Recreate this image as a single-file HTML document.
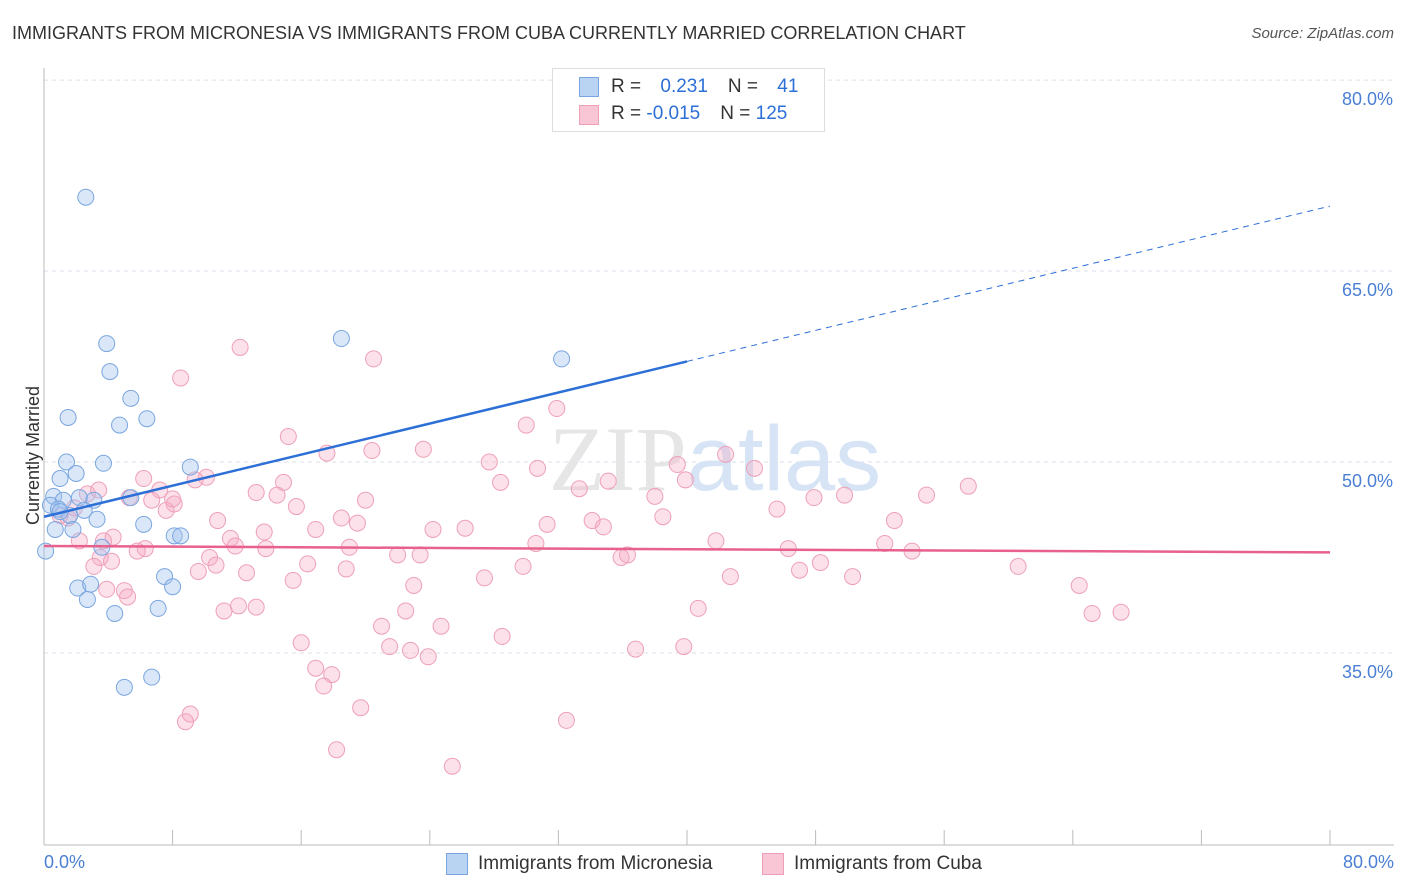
<!DOCTYPE html>
<html><head><meta charset="utf-8"><style>
body{margin:0;background:#fff;font-family:"Liberation Sans",sans-serif}
#wrap{position:relative;width:1406px;height:892px;overflow:hidden}
.t{position:absolute;white-space:nowrap}
</style></head><body>
<div id="wrap">
<div class="t" style="left:12px;top:23px;font-size:18px;color:#333">IMMIGRANTS FROM MICRONESIA VS IMMIGRANTS FROM CUBA CURRENTLY MARRIED CORRELATION CHART</div>
<div class="t" style="right:12px;top:25px;font-size:15px;color:#555;font-style:italic">Source: ZipAtlas.com</div>
<svg id="plot" width="1406" height="892" style="position:absolute;left:0;top:0"></svg>
</div>
<script>
const yTicks=[80,65,50,35];
const yTickLabels=["80.0%","65.0%","50.0%","35.0%"];
const xTickVals=[0,8,16,24,32,40,48,56,64,72,80];
const blueX=[2.6,3.9,4.1,5.4,1.5,6.4,4.7,1.4,3.7,2.0,1.0,9.1,0.6,1.2,2.2,3.1,5.4,0.4,0.9,2.5,1.6,3.3,6.2,0.7,1.8,8.1,8.5,3.6,0.1,7.5,2.1,2.9,8.0,2.7,4.4,7.1,5.0,6.7,18.5,32.2,1.0];
const blueY=[70.8,59.3,57.1,55.0,53.5,53.4,52.9,50.0,49.9,49.1,48.7,49.6,47.3,47.0,47.2,47.0,47.2,46.6,46.3,46.2,45.8,45.5,45.1,44.7,44.7,44.2,44.2,43.3,43.0,41.0,40.1,40.4,40.2,39.2,38.1,38.5,32.3,33.1,59.7,58.1,46.1];
const pinkX=[12.2,8.5,20.5,31.9,15.2,30.0,17.6,20.4,23.6,27.7,30.7,39.4,42.4,44.2,57.5,28.4,33.3,35.1,39.9,38.0,47.9,49.8,54.9,14.9,10.1,9.4,7.2,6.2,2.7,3.4,6.7,8.1,5.3,20.0,13.2,14.5,15.7,18.5,19.5,16.9,10.8,13.7,24.2,26.2,31.3,34.1,34.8,38.5,45.6,52.9,4.3,6.3,11.6,11.9,13.8,19.0,22.0,23.4,30.6,35.9,36.3,41.8,46.3,48.3,52.3,54.0,3.5,4.2,3.1,5.8,10.3,10.7,9.6,12.6,16.4,15.5,18.8,27.4,29.8,42.7,47.0,50.3,60.6,64.4,65.2,67.0,3.9,5.0,5.2,12.1,11.2,13.2,22.5,23.0,21.0,24.7,28.5,21.5,22.8,23.9,36.8,39.8,40.7,16.0,16.9,17.9,17.4,19.7,9.1,8.8,18.2,25.4,32.5,2.2,3.7,1.5,1.0,1.9,7.6,8.0];
const pinkY=[59.0,56.6,58.1,54.2,52.0,52.9,50.7,50.9,51.0,50.0,49.5,49.8,50.6,49.5,48.1,48.4,47.9,48.5,48.6,47.3,47.2,47.4,47.4,48.4,48.8,48.6,47.8,48.7,47.5,47.8,47.0,46.7,47.2,47.0,47.6,47.4,46.5,45.6,45.2,44.7,45.4,44.5,44.7,44.8,45.1,45.4,44.9,45.7,46.3,45.4,44.1,43.2,44.0,43.4,43.2,43.3,42.7,42.7,43.6,42.5,42.7,43.8,43.2,42.1,43.6,43.0,42.5,42.2,41.8,43.0,42.5,41.9,41.4,41.3,42.0,40.7,41.6,40.9,41.8,41.0,41.5,41.0,41.8,40.3,38.1,38.2,40.0,39.9,39.4,38.7,38.3,38.6,38.3,40.3,37.1,37.1,36.3,35.5,35.2,34.7,35.3,35.5,38.5,35.8,33.8,33.3,32.4,30.7,30.2,29.6,27.4,26.1,29.7,43.8,43.8,45.6,45.8,46.4,46.2,47.1];
const blueTrend=[45.7,57.9,70.1];
const pinkTrend=[43.4,42.9];
const NS="http://www.w3.org/2000/svg";
const svg=document.getElementById('plot');
const X=v=>44+v*(1330-44)/80;
const Y=v=>462-(v-50)*12.73;
function mk(tag,attrs,parent){const e=document.createElementNS(NS,tag);for(const k in attrs)e.setAttribute(k,attrs[k]);(parent||svg).appendChild(e);return e;}
yTicks.forEach((v,i)=>{
 const g=mk('line',{x1:44,x2:1394,y1:Y(v),y2:Y(v),stroke:'#dde',"stroke-dasharray":'4,4'});
 
 
 const t=mk('text',{x:1393,y:Y(v)+25,"text-anchor":'end',"font-size":18,fill:'#4a7fd4',"font-family":'Liberation Sans'});
 t.textContent=yTickLabels[i];
 
 
});
const ax1=mk('line',{x1:44,x2:44,y1:68,y2:845,stroke:'#bbb'});


const ax2=mk('line',{x1:44,x2:1394,y1:845,y2:845,stroke:'#bbb'});


xTickVals.forEach(v=>{
 const l=mk('line',{x1:X(v),x2:X(v),y1:830,y2:845,stroke:'#bbb'});
 
 
});
const wm=mk('text',{x:715,y:490,"text-anchor":'middle',"font-size":92,fill:'#e6e6e6',"font-family":'Liberation Serif'});
wm.innerHTML='ZIP<tspan fill="#d6e4f5" font-family="Liberation Sans">atlas</tspan>';


pinkX.forEach((x,i)=>{
 const c=mk('circle',{cx:X(x),cy:Y(pinkY[i]),r:8,fill:'rgba(245,170,195,0.35)',stroke:'#eea0b8',"stroke-width":1});
 
 
});
blueX.forEach((x,i)=>{
 const c=mk('circle',{cx:X(x),cy:Y(blueY[i]),r:8,fill:'rgba(160,195,240,0.4)',stroke:'#7aa6df',"stroke-width":1});
 
 
});
const bl=mk('line',{x1:X(0),y1:Y(blueTrend[0]),x2:X(40),y2:Y(blueTrend[1]),stroke:'#2c6fd6',"stroke-width":2.5});


const bd=mk('line',{x1:X(40),y1:Y(blueTrend[1]),x2:X(80),y2:Y(blueTrend[2]),stroke:'#2c6fd6',"stroke-width":1,"stroke-dasharray":'6,5'});


const pl=mk('line',{x1:X(0),y1:Y(pinkTrend[0]),x2:X(80),y2:Y(pinkTrend[1]),stroke:'#e8608c',"stroke-width":2.5});


</script>
<div class="t" style="left:44px;top:852px;font-size:18px;color:#4a7fd4">0.0%</div>
<div class="t" style="right:12px;top:852px;font-size:18px;color:#4a7fd4">80.0%</div>
<div class="t" style="left:-36px;top:445px;font-size:18px;color:#333;transform:rotate(-90deg);transform-origin:center">Currently Married</div>
<div style="position:absolute;left:552px;top:68px;width:271px;height:62px;border:1px solid #ddd;background:#fff;font-size:19px">
 <div style="position:absolute;left:26px;top:8px;width:18px;height:18px;background:#b9d3f3;border:1px solid #7aa6df"></div>
 <div class="t" style="left:58px;top:7px;color:#333">R = <span style="color:#2c6fd6;margin-left:14px">0.231</span><span style="margin-left:20px">N = </span><span style="color:#2c6fd6;margin-left:14px">41</span></div>
 <div style="position:absolute;left:26px;top:36px;width:18px;height:18px;background:#f9c6d6;border:1px solid #eea0b8"></div>
 <div class="t" style="left:58px;top:34px;color:#333">R = <span style="color:#2c6fd6">-0.015</span><span style="margin-left:20px">N = </span><span style="color:#2c6fd6">125</span></div>
</div>
<div style="position:absolute;left:446px;top:853px;width:20px;height:20px;background:#b9d3f3;border:1px solid #7aa6df"></div>
<div class="t" style="left:478px;top:853px;font-size:19px;color:#333">Immigrants from Micronesia</div>
<div style="position:absolute;left:762px;top:853px;width:20px;height:20px;background:#f9c6d6;border:1px solid #eea0b8"></div>
<div class="t" style="left:794px;top:853px;font-size:19px;color:#333">Immigrants from Cuba</div>
</body></html>
